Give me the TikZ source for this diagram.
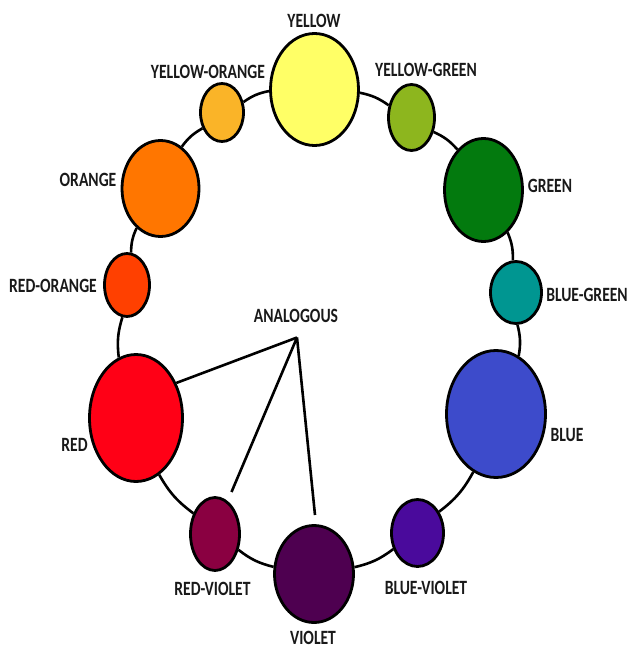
\documentclass[tikz,border=0pt]{standalone}
\usepackage{fontspec}
\setmainfont{Carlito}
\usetikzlibrary{shapes.geometric}
\definecolor{cY}{RGB}{255,255,102}
\definecolor{cYO}{RGB}{250,180,40}
\definecolor{cYG}{RGB}{141,182,30}
\definecolor{cO}{RGB}{255,118,0}
\definecolor{cG}{RGB}{3,122,14}
\definecolor{cRO}{RGB}{255,64,0}
\definecolor{cBG}{RGB}{0,150,145}
\definecolor{cR}{RGB}{255,0,22}
\definecolor{cB}{RGB}{61,75,203}
\definecolor{cRV}{RGB}{138,0,65}
\definecolor{cV}{RGB}{78,0,80}
\definecolor{cBV}{RGB}{74,10,156}
\definecolor{txt}{RGB}{25,25,25}
\newcommand{\tl}[1]{\scalebox{1}[1.3]{#1}}
\tikzset{
  blob/.style={ellipse, draw=black, line width=2.8pt, inner sep=0pt},
  lbl/.style={font=\bfseries\fontsize{15.6}{15.6}\selectfont, text=txt, inner sep=0pt},
  ring/.style={line width=2.6pt, draw=black},
  ana/.style={line width=2.6pt, draw=black},
}
\begin{document}
\begin{tikzpicture}[x=1pt,y=-1pt]
\useasboundingbox (0,0) rectangle (630,650);
% colour circles
\node[blob, fill=cY,  minimum width=88pt, minimum height=112pt] (Y)  at (314.5,89.5) {};
\node[blob, fill=cYO, minimum width=43pt, minimum height=58pt]  (YO) at (222,112.5) {};
\node[blob, fill=cYG, minimum width=46pt, minimum height=66pt]  (YG) at (411.5,117.5) {};
\node[blob, fill=cO,  minimum width=77pt, minimum height=96pt]  (O)  at (160.5,188.5) {};
\node[blob, fill=cG,  minimum width=78pt, minimum height=103pt] (G)  at (483.5,190) {};
\node[blob, fill=cRO, minimum width=45pt, minimum height=63pt]  (RO) at (127,285) {};
\node[blob, fill=cBG, minimum width=51pt, minimum height=62pt]  (BG) at (516,292.5) {};
\node[blob, fill=cR,  minimum width=93pt, minimum height=127pt] (R)  at (136,418) {};
\node[blob, fill=cB,  minimum width=99pt, minimum height=127pt] (B)  at (496,414) {};
\node[blob, fill=cRV, minimum width=49pt, minimum height=73pt]  (RV) at (215,534) {};
\node[blob, fill=cV,  minimum width=79pt, minimum height=97pt]  (V)  at (314,574) {};
\node[blob, fill=cBV, minimum width=52pt, minimum height=67pt]  (BV) at (417.5,533) {};
% ring connectors (clockwise)
\draw[ring] (Y)  to[bend left=12] (YG);
\draw[ring] (YG) to[bend left=12] (G);
\draw[ring] (G)  to[bend left=12] (BG);
\draw[ring] (BG) to[bend left=12] (B);
\draw[ring] (B)  to[bend left=12] (BV);
\draw[ring] (BV) to[bend left=12] (V);
\draw[ring] (V)  to[bend left=12] (RV);
\draw[ring] (RV) to[bend left=12] (R);
\draw[ring] (R)  to[bend left=12] (RO);
\draw[ring] (RO) to[bend left=12] (O);
\draw[ring] (O)  to[bend left=12] (YO);
\draw[ring] (YO) to[bend left=12] (Y);
% labels
\node[lbl] (tY)  at (314,21)    {\tl{YELLOW}};
\node[lbl] (tYO) at (208,71.5)  {\tl{YELLOW-ORANGE}};
\node[lbl] (tYG) at (426,70)    {\tl{YELLOW-GREEN}};
\node[lbl] (tO)  at (88,180)    {\tl{ORANGE}};
\node[lbl] (tG)  at (550,186)   {\tl{GREEN}};
\node[lbl] (tRO) at (53,285.5)  {\tl{RED-ORANGE}};
\node[lbl] (tBG) at (587,294.5) {\tl{BLUE-GREEN}};
\node[lbl] (tR)  at (74.5,445)  {\tl{RED}};
\node[lbl] (tB)  at (567,435)   {\tl{BLUE}};
\node[lbl] (tRV) at (212.5,588.5) {\tl{RED-VIOLET}};
\node[lbl] (tBV) at (426,587.5) {\tl{BLUE-VIOLET}};
\node[lbl] (tV)  at (313,637.5) {\tl{VIOLET}};
\node[lbl] (tA)  at (296,316)   {\tl{ANALOGOUS}};
% analogous pointers
\coordinate (apex) at (297,337.5);
\coordinate (rvtip) at (231.5,492);
\coordinate (vtip) at (315,515);
\draw[ana] (apex) -- (R.41);
\draw[ana] (apex) -- (rvtip);
\draw[ana] (apex) -- (vtip);
\end{tikzpicture}
\end{document}
